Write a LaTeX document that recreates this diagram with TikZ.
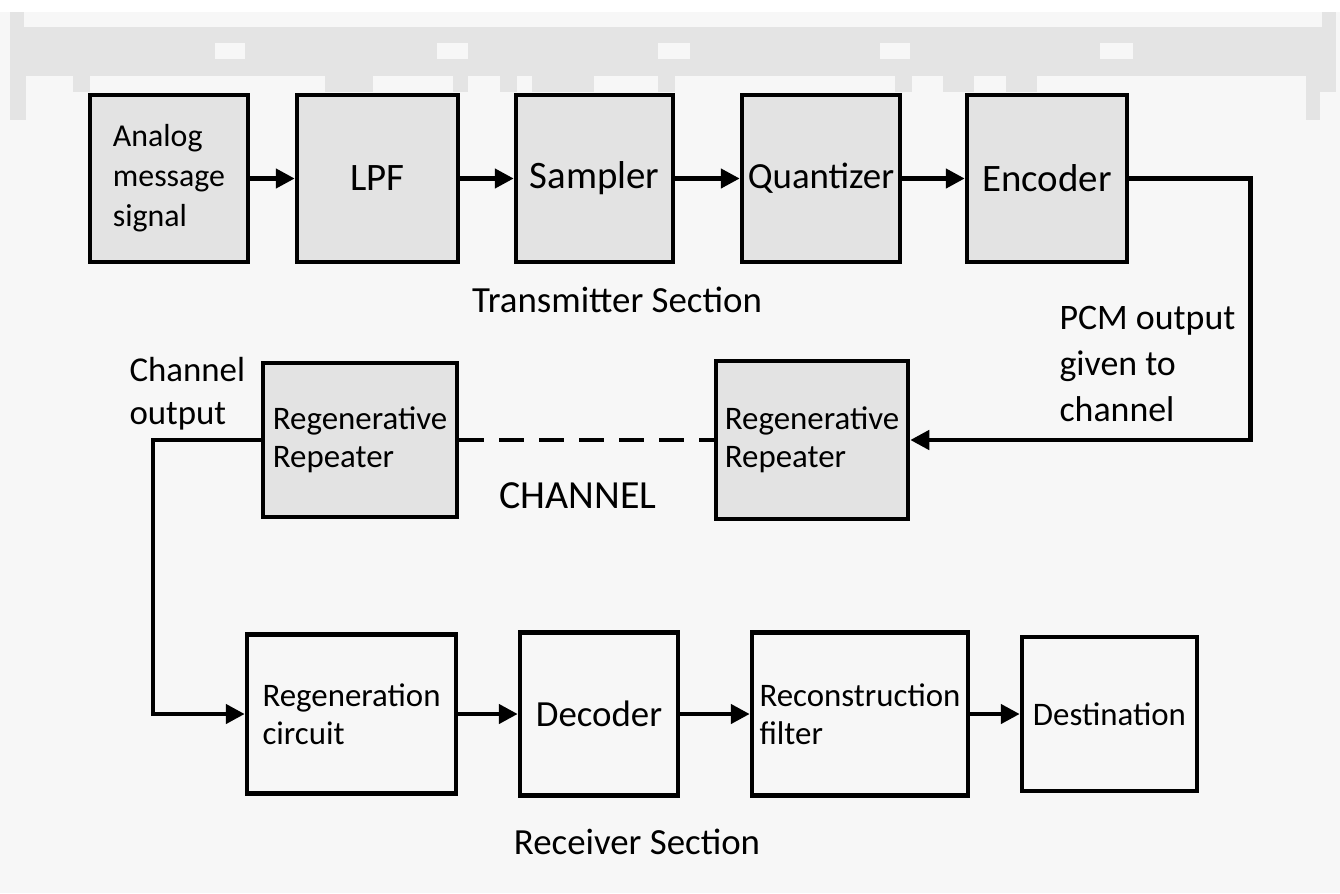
\documentclass[tikz,border=0pt]{standalone}
\usepackage{fontspec}
\setmainfont{Carlito}
\usetikzlibrary{arrows.meta}
\definecolor{boxgrey}{HTML}{E3E3E3}
\definecolor{paper}{HTML}{F7F7F7}
\definecolor{bandgrey}{HTML}{E4E4E4}

\begin{document}
\begin{tikzpicture}[
  x=1bp, y=-1bp,
  block/.style={rectangle, draw, line width=4.5bp, fill=boxgrey, inner sep=1bp, align=center, font=\fontsize{39}{42}\selectfont},
  rxblock/.style={block, fill=paper},
  twoline/.style={align=left, font=\fontsize{33}{38}\selectfont},
  caption/.style={font=\fontsize{37}{44}\selectfont},
  link/.style={line width=4.5bp, -{Triangle[length=19bp,width=19bp]}}
]
% Page and top band
\useasboundingbox (0,0) rectangle (1340,893);
\fill[paper] (0,0) rectangle (1340,893);
\fill[white] (0,0) rectangle (1340,12);
\fill[bandgrey] (10,12) rectangle (1336,92);
\fill[bandgrey] (10,92) rectangle (26,120);
\fill[bandgrey] (1306,92) rectangle (1320,120);
\fill[paper] (24,12) rectangle (1322,27);
\foreach \xa/\xb in {215/245, 437/468, 658/690, 880/910, 1100/1133}
  \fill[paper] (\xa,43) rectangle (\xb,59);
\foreach \xa/\xb in {26/73, 90/325, 373/453, 468/500, 517/532, 594/658, 675/895, 912/943, 974/1006, 1037/1306}
  \fill[paper] (\xa,76) rectangle (\xb,92);

% Transmitter
\node[block, minimum width=158bp, minimum height=167bp, align=left, font=\fontsize{32}{40}\selectfont] (analog) at (169,178.5) {Analog\\message\\signal};
\node[block, minimum width=161bp, minimum height=167bp] (lpf) at (377.5,178.5) {LPF};
\node[block, right of=lpf, node distance=217bp, minimum width=157bp, minimum height=167bp] (sampler) {Sampler};
\node[block, right of=sampler, node distance=226.5bp, minimum width=158bp, minimum height=167bp, font=\fontsize{37}{42}\selectfont] (quant) {Quantizer};
\node[block, right of=quant, node distance=226bp, minimum width=160bp, minimum height=167bp] (enc) {Encoder};
\node[caption] (txsec) at (617,300) {Transmitter Section};

% Channel
\node[block, twoline, minimum width=194bp, minimum height=154bp] (lrep) at (360,440) {Regenerative\\Repeater};
\node[block, twoline, minimum width=192bp, minimum height=158bp] (rrep) at (812,440) {Regenerative\\Repeater};
\node[font=\fontsize{40}{44}\selectfont] (chan) at (578,496) {CHANNEL};
\node[twoline, font=\fontsize{35}{43}\selectfont, anchor=west] (chout) at (126,394) {Channel\\output};
\node[twoline, font=\fontsize{36}{46}\selectfont, anchor=west] (pcm) at (1056,364) {PCM output\\given to\\channel};

% Receiver
\node[rxblock, twoline, minimum width=209bp, minimum height=159bp] (regen) at (351.5,714) {Regeneration\\circuit};
\node[rxblock, minimum width=158bp, minimum height=163bp, font=\fontsize{37}{42}\selectfont] (dec) at (599,714) {Decoder};
\node[rxblock, twoline, minimum width=216bp, minimum height=163bp] (recon) at (860,714) {Reconstruction\\filter};
\node[rxblock, minimum width=175bp, minimum height=154bp, font=\fontsize{33}{38}\selectfont] (dest) at (1109.5,714) {Destination};
\node[caption] (rxsec) at (637,842) {Receiver Section};

% Connections
\draw[link] (analog) -- (lpf);
\draw[link] (lpf) -- (sampler);
\draw[link] (sampler) -- (quant);
\draw[link] (quant) -- (enc);
\draw[link] (enc.east) -- ++(121,0) |- (rrep.east);
\draw[line width=4.5bp, dash pattern=on 25bp off 15bp] (lrep) -- (rrep);
\draw[link] (lrep.west) -- ++(-108,0) |- (regen.west);
\draw[link] (regen) -- (dec);
\draw[link] (dec) -- (recon);
\draw[link] (recon) -- (dest);
\end{tikzpicture}
\end{document}
